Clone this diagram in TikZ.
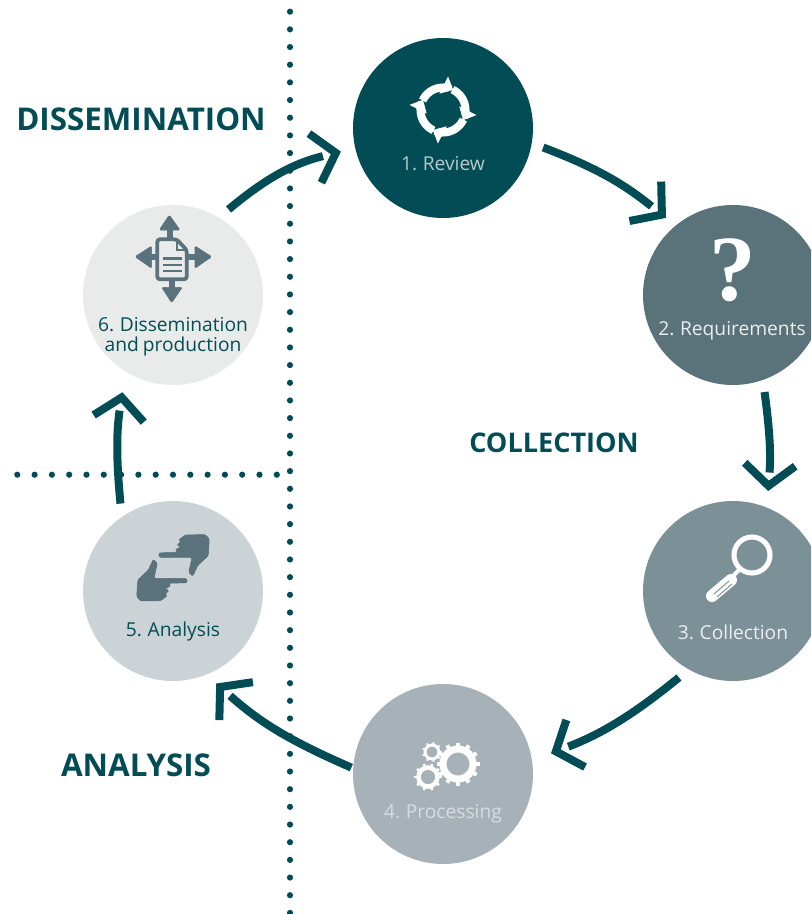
\documentclass[tikz,border=0pt]{standalone}
\usepackage{fontspec}
\usepackage{xcolor}
\usetikzlibrary{arrows.meta,decorations.markings}
\setmainfont{Open Sans}[WordSpace=0.8]
\newfontfamily\markfont{Liberation Serif}
\definecolor{tealdark}{HTML}{024D55}
\definecolor{stepone}{HTML}{024D55}
\definecolor{steptwo}{HTML}{5A727A}
\definecolor{stepthree}{HTML}{7C9097}
\definecolor{stepfour}{HTML}{A6B2B8}
\definecolor{stepfive}{HTML}{CCD3D6}
\definecolor{stepsix}{HTML}{E9EBEB}
\definecolor{iconshade}{HTML}{5A727B}
\tikzset{
  stepcircle/.style={circle, minimum size=135pt, inner sep=0pt, outer sep=9pt, fill=#1},
  steplabel/.style={font=\fontsize{14.4pt}{15pt}\selectfont, inner sep=0pt, text=#1},
  headlabel/.style={font=\fontsize{23.5pt}{26pt}\selectfont\bfseries, inner sep=0pt, text=tealdark},
  cyclearrow/.style={draw=tealdark, line width=6pt, shorten >=#1+14pt,
    postaction={decorate, decoration={markings, mark=at position -#1-0.1pt with
      {\arrow{Straight Barb[length=16pt,width=38pt,line width=6pt,color=tealdark]}}}}},
  cyclearrow/.default=0pt,
  icondark/.style={fill=iconshade, draw=iconshade, line width=0.4pt, rounded corners=1pt},
}
\newcommand{\gearicon}[5]{
  \begin{scope}[shift={(#1,#2)}]
    \draw[white, line width=#4*0.75pt] (0,0) circle (#3);
    \foreach \i in {1,...,#5}
      \draw[white, line width=#3*0.2pt] ({\i*360/#5}:#3) -- ({\i*360/#5}:#3+#4*0.5+#3*0.2);
  \end{scope}
}
\begin{document}
\begin{tikzpicture}[x=0.75pt,y=0.75pt]
\useasboundingbox (0,0) rectangle (811,-914);
\clip (0,0) rectangle (811,-914);
\fill[white] (0,0) rectangle (811,-914);
\foreach \k in {0,...,51}
  \fill[tealdark] (290,{-11.7-17.67*\k}) circle (3.1);
\foreach \k in {0,...,15}
  \fill[tealdark] ({17.3+17.3*\k},-474.7) circle (3.1);
\node[stepcircle=stepone] (review) at (443,-128) {};
\node[stepcircle=steptwo] (requirements) at (733,-295) {};
\node[stepcircle=stepthree] (collection) at (733,-591) {};
\node[stepcircle=stepfour] (processing) at (443,-774) {};
\node[stepcircle=stepfive] (analysis) at (173,-591) {};
\node[stepcircle=stepsix] (dissemination) at (173,-295) {};
\draw[cyclearrow] (review.-11) to[bend left=9] (requirements.131);
\draw[cyclearrow=3pt] (requirements.-72) to[bend left=6] (collection.70);
\draw[cyclearrow=6pt] (collection.-122) to[bend left=9] (processing.10);
\draw[cyclearrow, shorten <=-8pt] (processing.174) to[bend left=9] (analysis.-65);
\draw[cyclearrow=6pt] (analysis.121) to[bend left=7] (dissemination.-119);
\draw[cyclearrow=2pt] (dissemination.57) to[bend left=13] (review.193);
\node[headlabel] (headdissemination) at (141,-119) {DISSEMINATION};
\node[headlabel, font=\fontsize{20.3pt}{24pt}\selectfont\bfseries] (headcollection) at (554,-443) {COLLECTION};
\node[headlabel] (headanalysis) at (136,-765) {ANALYSIS};
\node[steplabel=white!70!stepone] (labelreview) at (443,-164) {1. Review};
\node[steplabel=white!88!steptwo] (labelrequirements) at (732,-331) {2. Requirements};
\node[steplabel=white!85!stepthree] (labelcollection) at (733,-632) {3. Collection};
\node[steplabel=white!55!stepfour] (labelprocessing) at (443,-814) {4. Processing};
\node[steplabel=tealdark] (labelanalysis) at (173,-632) {5. Analysis};
\node[steplabel=tealdark, align=center] (labeldissemination) at (173,-337) {6. Dissemination\\and production};
\foreach \a in {63,-27,-117,153}
  \draw[white, line width=6pt, -{Triangle[length=8pt,width=14pt]}] ([shift={(\a+92:22.5)}]443,-110) arc[start angle=\a+92, delta angle=-92, radius=22.5];
\node[font=\markfont\bfseries\fontsize{70pt}{70pt}\selectfont, text=white, inner sep=0pt] (markquestion) at (733,-270) {?};
\draw[white, line width=3.8pt] (752,-555) circle (18);
\draw[white, line width=3pt] (740,-569) -- (733,-576);
\draw[white, line width=9pt, line cap=round] (731,-580) -- (712,-596);
\draw[stepthree, line width=0.7pt] (729,-581) -- (714,-594);
\draw[stepthree, line width=0.7pt] (732,-584) -- (717,-597);
\gearicon{458}{-764}{15}{7}{12}
\gearicon{432}{-752}{7}{3}{9}
\gearicon{428}{-777}{9.5}{4.5}{10}
\foreach \handangle in {0,180}
  \fill[icondark, rotate around={\handangle:(173,-567.8)}] (153.3,-559.3) -- (157.3,-563.3) -- (154,-578.3) -- (186.7,-578.3) -- (187.3,-582.7) -- (168.3,-583.3) -- (171,-585.7) -- (165,-588.7) -- (169.3,-590.7) -- (165,-593.7) -- (167.3,-595.7) -- (160.7,-600.7) -- (140.7,-601) -- (136.7,-596.7) -- (137.7,-580) -- (148.3,-570) -- cycle;
\draw[iconshade, line width=4.5pt] (170,-225) -- (170,-240);
\draw[iconshade, line width=4.5pt] (172,-279) -- (172,-292);
\draw[iconshade, line width=4.5pt] (145,-256.7) -- (158,-256.7);
\draw[iconshade, line width=4.5pt] (186,-256.7) -- (200,-256.7);
\fill[icondark] (169.3,-215) -- (180,-230) -- (159.3,-230) -- cycle;
\fill[icondark] (171.7,-302.7) -- (182.3,-287.3) -- (161.7,-287.3) -- cycle;
\fill[icondark] (135,-256.7) -- (151.7,-246) -- (151.7,-268.3) -- cycle;
\fill[icondark] (211.7,-256.7) -- (195,-246) -- (195,-268.3) -- cycle;
\draw[iconshade, fill=stepsix, line width=2.8pt, rounded corners=2pt] (157.3,-239.3) -- (176.7,-239.3) -- (186.7,-250) -- (186.7,-279.3) -- (157.3,-279.3) -- cycle;
\draw[iconshade, line width=1.5pt] (176.7,-239.3) -- (176.7,-250) -- (186.7,-250);
\foreach \y in {-258.3,-265,-271}
  \draw[iconshade, line width=2pt] (162.7,\y) -- (181.7,\y);
\end{tikzpicture}
\end{document}
